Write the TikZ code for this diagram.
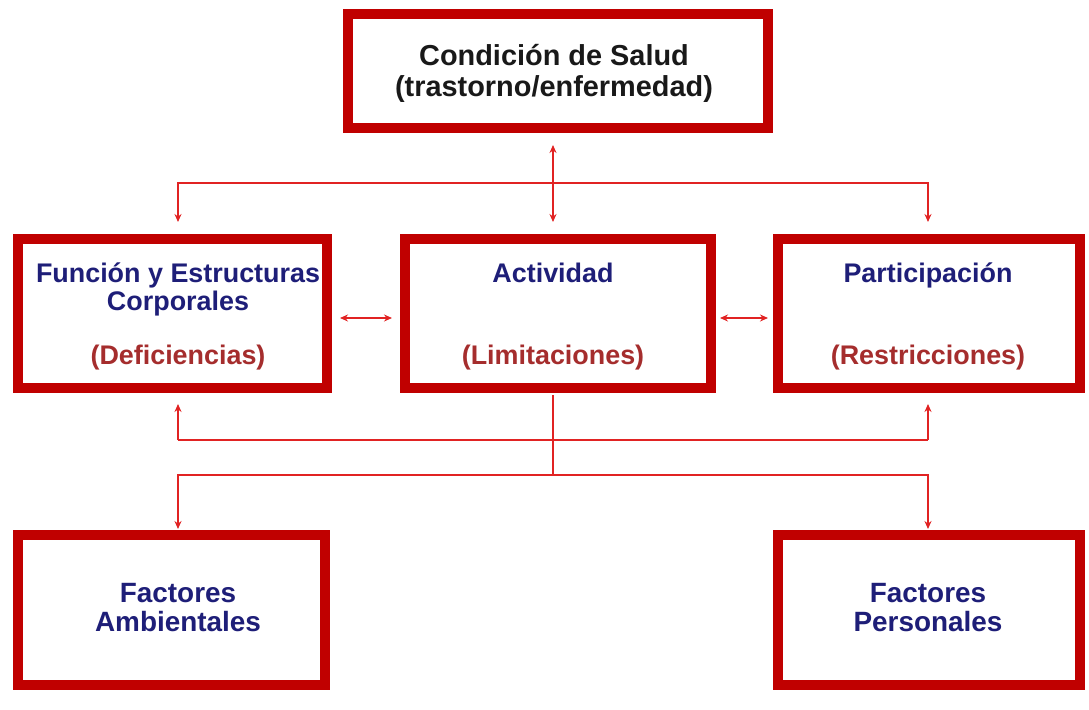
\documentclass[tikz,border=0pt]{standalone}
\usepackage{fontspec}
\setmainfont{Liberation Sans}
\usetikzlibrary{arrows.meta}
\definecolor{boxred}{RGB}{192,0,0}
\definecolor{linered}{RGB}{225,35,35}
\definecolor{navy}{RGB}{30,30,120}
\definecolor{darkred}{RGB}{165,45,45}
\begin{document}
\begin{tikzpicture}[x=1bp,y=-1bp,
  boxnode/.style={draw=boxred, line width=10bp, minimum width=#1, inner sep=0pt, outer sep=0pt},
  bluetxt/.style={text=navy, font=\bfseries\fontsize{27}{32}\selectfont, inner sep=0pt, anchor=base},
  bigblue/.style={text=navy, font=\bfseries\fontsize{28}{33}\selectfont, inner sep=0pt, anchor=base},
  redtxt/.style={text=darkred, font=\bfseries\fontsize{27}{32}\selectfont, inner sep=0pt, anchor=base},
  blacktxt/.style={text=black!90, font=\bfseries\fontsize{29}{34}\selectfont, inner sep=0pt, anchor=base},
  conn/.style={draw=linered, line width=2bp},
  tip/.style={-{Stealth[length=8bp,width=7bp]}},
  dtip/.style={{Stealth[length=8bp,width=7bp]}-{Stealth[length=8bp,width=7bp]}}
]
\useasboundingbox[fill=white] (0,0) rectangle (1089,710);
% boxes
\node[boxnode=420bp, minimum height=114bp] (top) at (558,71) {};
\node[boxnode=309bp, minimum height=149bp] (fun) at (172.5,313.5) {};
\node[boxnode=306bp, minimum height=149bp] (act) at (558,313.5) {};
\node[boxnode=302bp, minimum height=149bp] (par) at (929,313.5) {};
\node[boxnode=307bp, minimum height=150bp] (amb) at (171.5,610) {};
\node[boxnode=302bp, minimum height=150bp] (per) at (929,610) {};
% texts
\node[blacktxt] (t1) at (554,66) {Condición de Salud};
\node[blacktxt] (t2) at (554,97) {(trastorno/enfermedad)};
\node[bluetxt] (f1) at (178,282) {Función y Estructuras};
\node[bluetxt] (f2) at (178,310) {Corporales};
\node[redtxt] (f3) at (178,364) {(Deficiencias)};
\node[bluetxt] (a1) at (553,282) {Actividad};
\node[redtxt] (a2) at (553,364) {(Limitaciones)};
\node[bluetxt] (p1) at (928,282) {Participación};
\node[redtxt] (p2) at (928,364) {(Restricciones)};
\node[bigblue] (e1) at (178,602) {Factores};
\node[bigblue] (e2) at (178,631) {Ambientales};
\node[bigblue] (r1) at (928,602) {Factores};
\node[bigblue] (r2) at (928,631) {Personales};
% junction coordinates
\coordinate (cu) at (553,145);
\coordinate (jm) at (553,183);
\coordinate (jl) at (178,183);
\coordinate (jr) at (928,183);
\coordinate (dl) at (178,222);
\coordinate (dm) at (553,222);
\coordinate (dr) at (928,222);
\coordinate (ul) at (178,404);
\coordinate (ur) at (928,404);
\coordinate (hl) at (178,440);
\coordinate (hr) at (928,440);
\coordinate (lm) at (553,475);
\coordinate (ll) at (178,475);
\coordinate (lr) at (928,475);
\coordinate (bl) at (178,529);
\coordinate (br) at (928,529);
\coordinate (ab) at (553,395);
% upper connectors
\draw[conn,dtip] (cu) -- (dm);
\draw[conn,tip] (jm) -- (jl) -- (dl);
\draw[conn,tip] (jm) -- (jr) -- (dr);
% side arrows
\draw[conn,dtip] (340,318) -- (392,318);
\draw[conn,dtip] (720,318) -- (768,318);
% lower connectors
\draw[conn] (ab) -- (lm);
\draw[conn] (hl) -- (hr);
\draw[conn,tip] (hl) -- (ul);
\draw[conn,tip] (hr) -- (ur);
\draw[conn,tip] (lm) -- (ll) -- (bl);
\draw[conn,tip] (lm) -- (lr) -- (br);
\end{tikzpicture}
\end{document}
